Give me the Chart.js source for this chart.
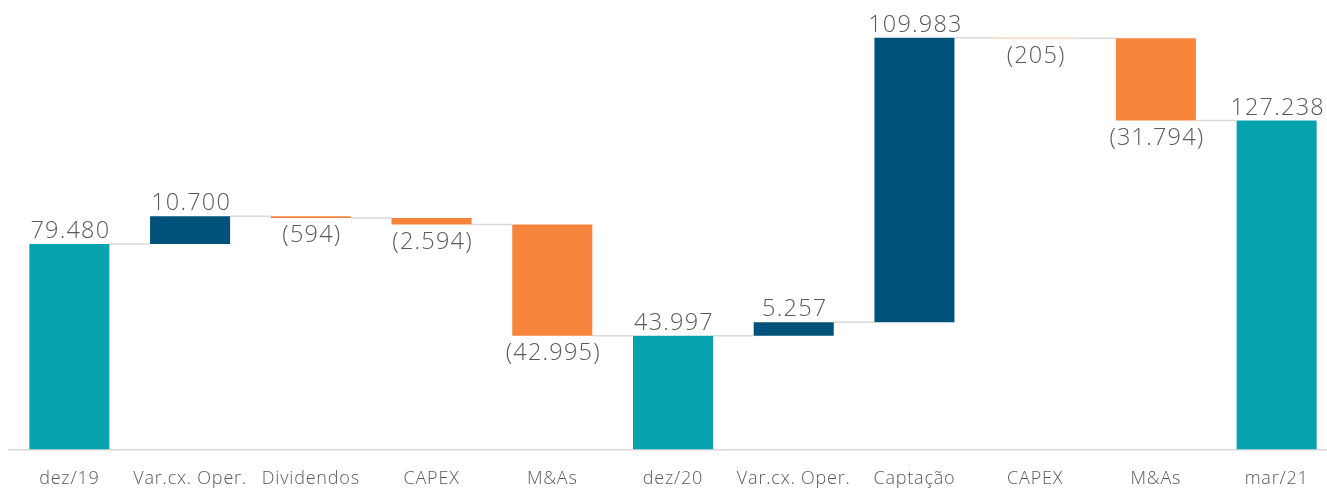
<!DOCTYPE html>
<html>
<head>
<meta charset="utf-8">
<script src="https://cdn.jsdelivr.net/npm/chart.js@4.4.1/dist/chart.umd.min.js"></script>
<style>
  html, body { margin: 0; padding: 0; background: #fff; overflow: hidden; }
  #wrap { position: relative; width: 1337px; height: 488px; }
</style>
</head>
<body>
<div id="wrap"><canvas id="waterfall"></canvas></div>
<script>
// Waterfall: caixa dez/19 -> dez/20 -> mar/21
const categories = ['dez/19', 'Var.cx. Oper.', 'Dividendos', 'CAPEX', 'M&As', 'dez/20',
  'Var.cx. Oper.', 'Captação', 'CAPEX', 'M&As', 'mar/21'];
const values = [79480, 10700, -594, -2594, -42995, 43997, 5257, 109983, -205, -31794, 127238];
const isTotal = [true, false, false, false, false, true, false, false, false, false, true];

const COLORS = { total: '#06a2ad', up: '#01527a', down: '#f6853b' };
const TEXT = '#595959';
const FONT = "'Open Sans', sans-serif";

// floating ranges + running level after each step
const ranges = [];
const levels = [];
let running = 0;
values.forEach((v, i) => {
  if (isTotal[i]) {
    ranges.push([0, v]);
    running = v;
  } else {
    ranges.push([running, running + v]);
    running += v;
  }
  levels.push(running);
});

function fmt(v) {
  const s = String(Math.abs(v)).replace(/\B(?=(\d{3})+(?!\d))/g, '.');
  return v < 0 ? '(' + s + ')' : s;
}

const barColors = values.map((v, i) => isTotal[i] ? COLORS.total : (v >= 0 ? COLORS.up : COLORS.down));

// a bit of tracking so the text is as wide as the original's
const tracking = {
  id: 'tracking',
  beforeDraw(chart) { chart.ctx.letterSpacing = '0.8px'; }
};

const connectors = {
  id: 'connectors',
  beforeDatasetsDraw(chart) {
    const { ctx, scales: { y } } = chart;
    const bars = chart.getDatasetMeta(0).data;
    ctx.save();
    ctx.strokeStyle = '#d9d9d9';
    ctx.lineWidth = 1.5;
    for (let i = 0; i < bars.length - 1; i++) {
      const yy = y.getPixelForValue(levels[i]);
      ctx.beginPath();
      ctx.moveTo(bars[i].x + bars[i].width / 2, yy);
      ctx.lineTo(bars[i + 1].x - bars[i + 1].width / 2, yy);
      ctx.stroke();
    }
    ctx.restore();
  }
};

const valueLabels = {
  id: 'valueLabels',
  afterDatasetsDraw(chart) {
    const { ctx, scales: { y } } = chart;
    const bars = chart.getDatasetMeta(0).data;
    ctx.save();
    ctx.fillStyle = TEXT;
    ctx.font = '300 23.5px ' + FONT;
    ctx.letterSpacing = '1.2px';
    ctx.textAlign = 'center';
    ctx.textBaseline = 'alphabetic';
    bars.forEach((bar, i) => {
      const [lo, hi] = ranges[i];
      if (values[i] < 0) {
        ctx.fillText(fmt(values[i]), bar.x + 1, y.getPixelForValue(Math.min(lo, hi)) + 24.5);
      } else {
        ctx.fillText(fmt(values[i]), bar.x + 1, y.getPixelForValue(Math.max(lo, hi)) - 6);
      }
    });
    ctx.restore();
  }
};

new Chart(document.getElementById('waterfall'), {
  type: 'bar',
  data: {
    labels: categories,
    datasets: [{
      data: ranges,
      backgroundColor: barColors,
      borderWidth: 0,
      borderSkipped: false,
      barPercentage: 0.663,
      categoryPercentage: 1,
    }]
  },
  options: {
    responsive: true,
    maintainAspectRatio: false,
    animation: false,
    layout: { padding: { top: 10, left: 9, right: 0, bottom: 0 } },
    plugins: { legend: { display: false }, tooltip: { enabled: false } },
    scales: {
      x: {
        grid: { display: true, drawOnChartArea: false, drawTicks: false, tickLength: 0 },
        border: { display: true, color: '#d9d9d9', width: 1.5 },
        ticks: { color: TEXT, font: { family: FONT, size: 18, weight: 300 }, padding: 18.7, maxRotation: 0, autoSkip: false },
        afterFit(scale) { scale.height = 38.5; }
      },
      y: {
        display: false,
        min: 0,
        max: 170000
      }
    }
  },
  plugins: [tracking, connectors, valueLabels]
});
</script>
</body>
</html>
